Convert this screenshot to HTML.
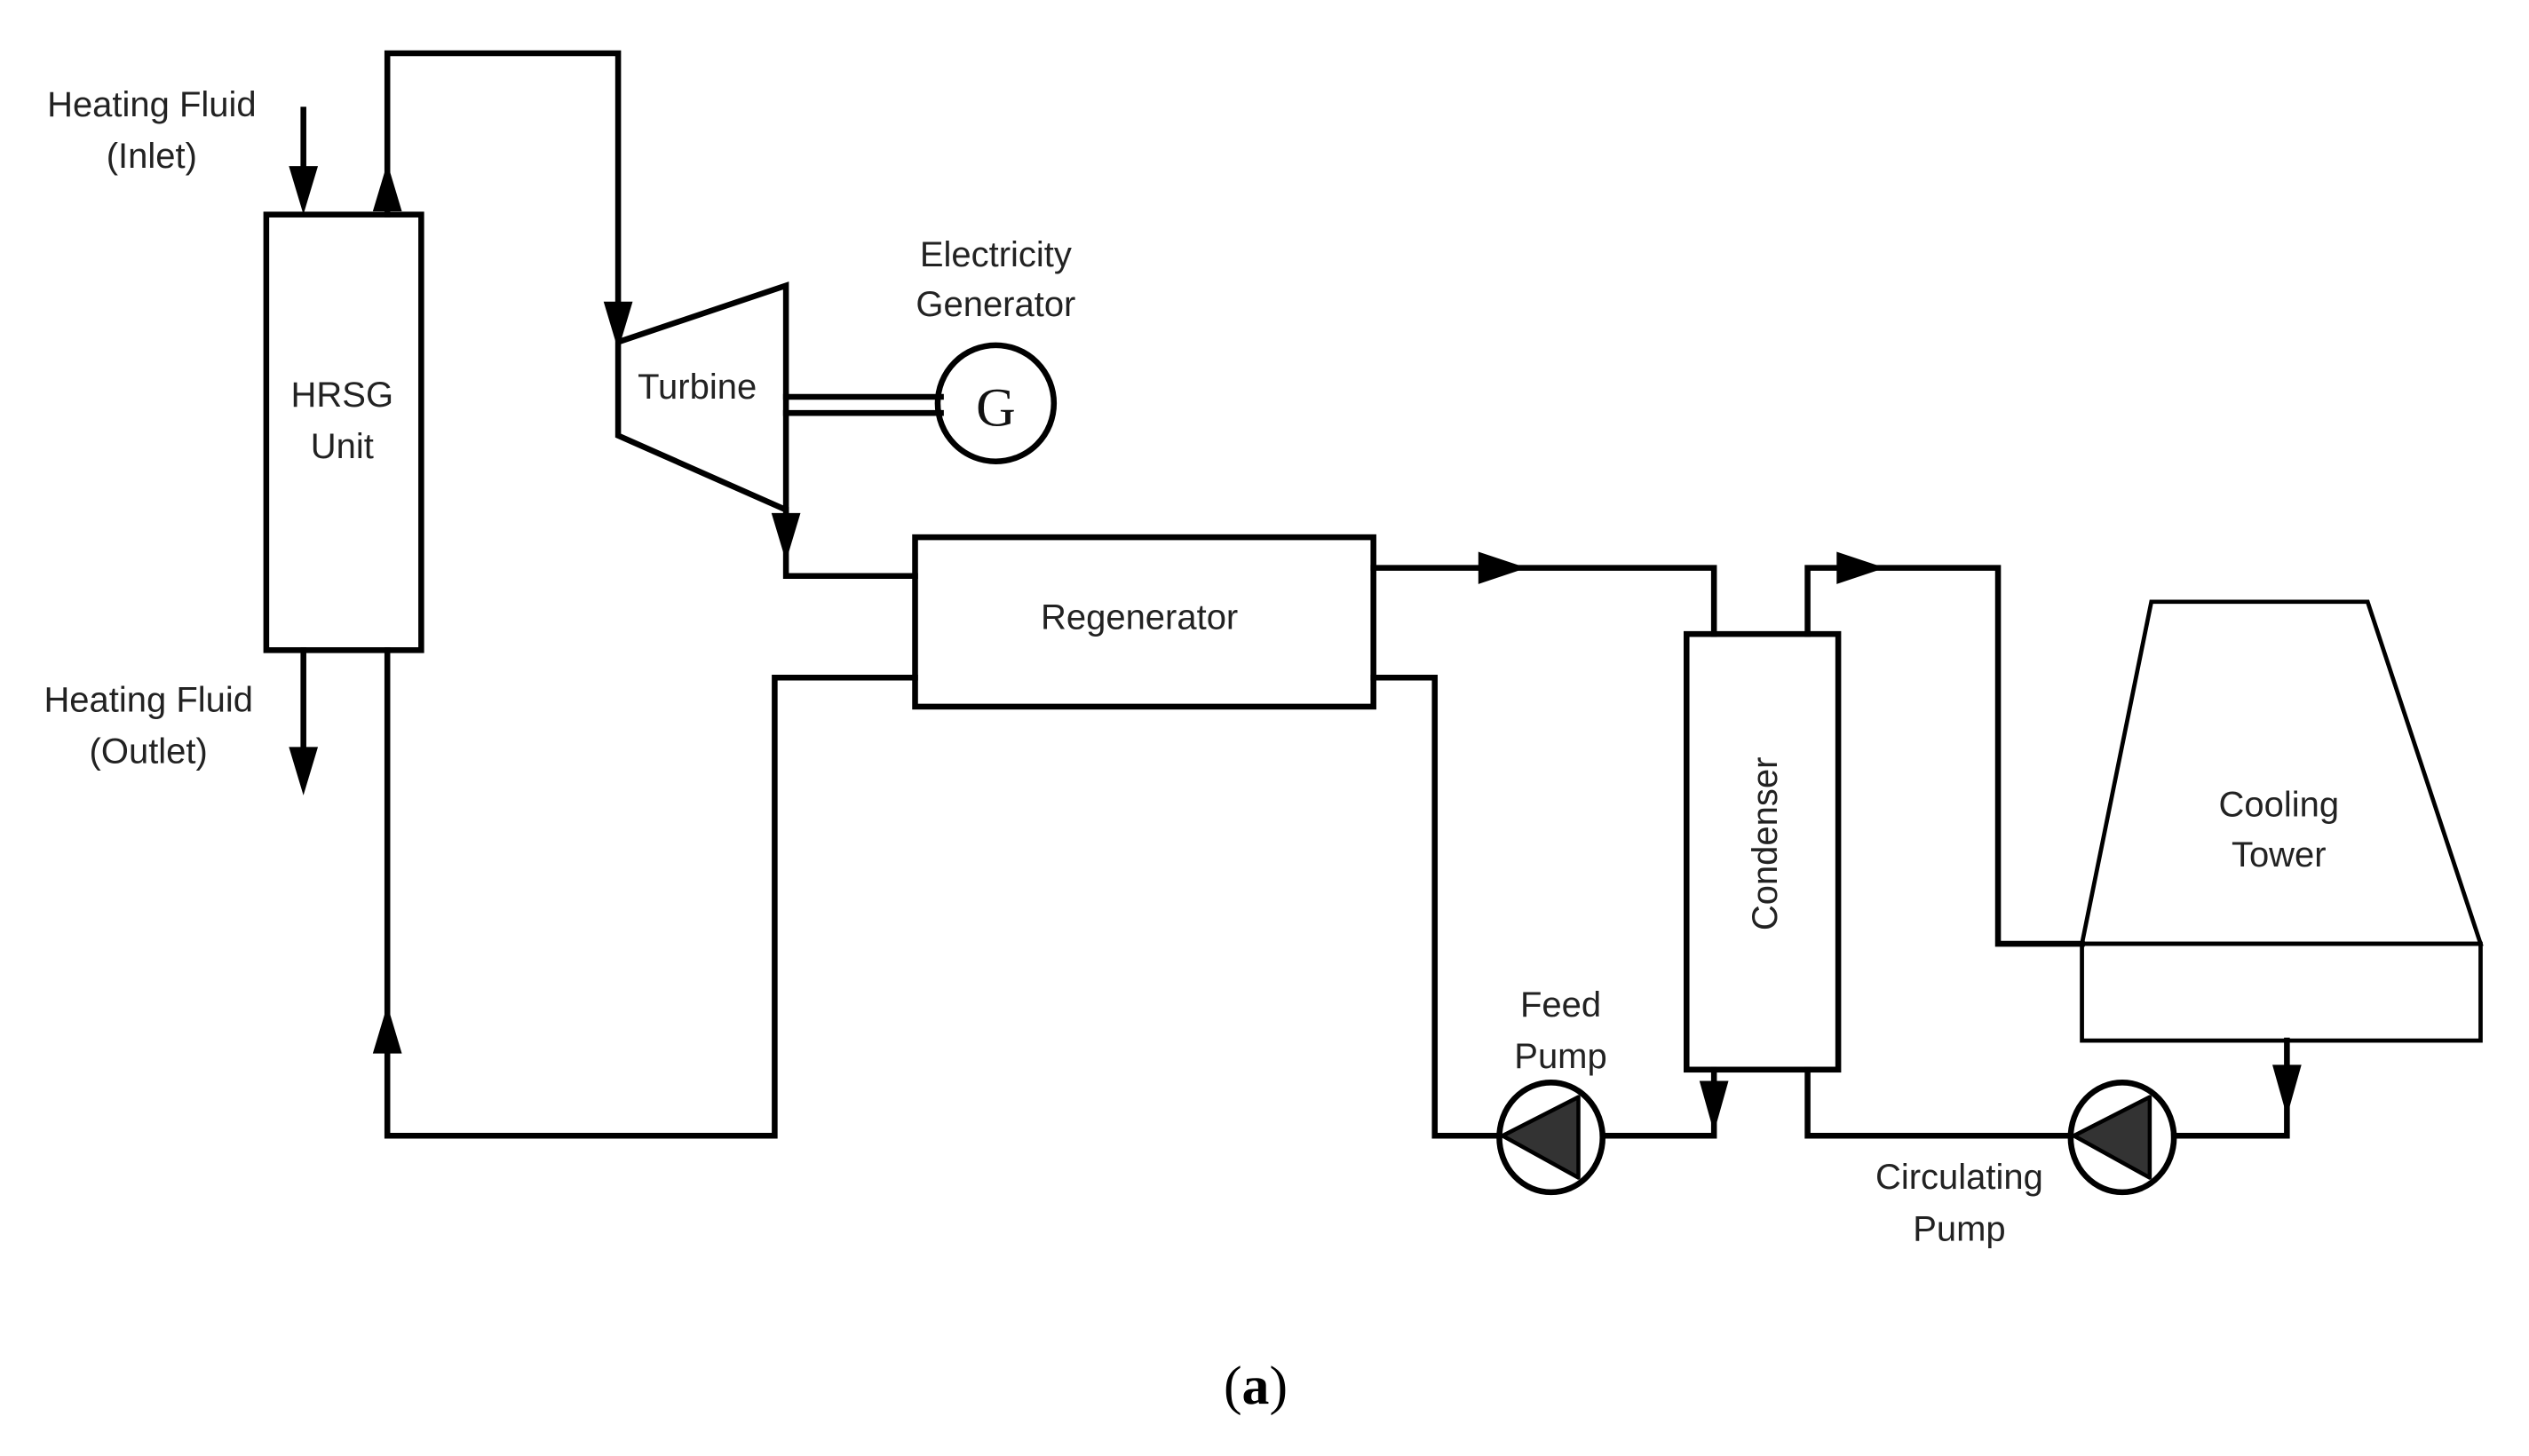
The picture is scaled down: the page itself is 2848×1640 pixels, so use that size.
<!DOCTYPE html>
<html><head><meta charset="utf-8"><style>
html,body{margin:0;padding:0;background:#fff;}
svg{display:block;}
text{font-family:"Liberation Sans",sans-serif;fill:#222;}
</style></head><body>
<svg width="2848" height="1640" viewBox="0 0 1567 902.5" preserveAspectRatio="none" xmlns="http://www.w3.org/2000/svg">
<g fill="none" stroke="#000" stroke-width="3.6" stroke-linejoin="miter" stroke-linecap="square">
<rect x="165" y="133" width="96" height="270"/>
<line x1="188" y1="68" x2="188" y2="120"/>
<line x1="188" y1="403" x2="188" y2="480"/>
<polyline points="240,133 240,33 383,33 383,200"/>
<polyline points="240,403 240,704 480,704 480,420 567,420"/>
<polygon points="383,212 487,177 487,316 383,270"/>
<line x1="487" y1="246" x2="583" y2="246"/>
<line x1="487" y1="256" x2="583" y2="256"/>
<circle cx="617" cy="250" r="36"/>
<polyline points="487,316 487,357 567,357"/>
<rect x="567" y="333" width="284" height="105"/>
<polyline points="851,352 1062,352 1062,393"/>
<polyline points="851,420 889,420 889,704 929,704"/>
<polyline points="993,704 1062,704 1062,663"/>
<rect x="1045" y="393" width="94" height="270"/>
<polyline points="1120,393 1120,352 1238,352 1238,585 1290,585"/>
<polyline points="1120,663 1120,704 1283,704"/>
<polyline points="1347,704 1417,704 1417,645"/>
<ellipse cx="961" cy="705" rx="32" ry="34"/>
<ellipse cx="1315" cy="705" rx="32" ry="34"/>
</g>
<g fill="none" stroke="#000" stroke-width="2.6">
<polygon points="1333,373 1467,373 1537,585 1290,585"/>
<rect x="1290" y="585" width="247" height="60"/>
</g>
<g fill="#333" stroke="#000" stroke-width="2.5" stroke-linejoin="round">
<polygon points="931,704 978,680 978,730"/>
<polygon points="1285,704 1332,680 1332,730"/>
</g>
<g fill="#000">
<polygon points="179,103 197,103 188,133"/>
<polygon points="231,131 249,131 240,101"/>
<polygon points="374,187 392,187 383,217"/>
<polygon points="478,318 496,318 487,348"/>
<polygon points="179,463 197,463 188,493"/>
<polygon points="231,653 249,653 240,623"/>
<polygon points="916,342 916,362 946,352"/>
<polygon points="1138,342 1138,362 1168,352"/>
<polygon points="1053,670 1071,670 1062,702"/>
<polygon points="1408,660 1426,660 1417,692"/>
</g>
<g font-size="22" text-anchor="middle">
<text x="94" y="72">Heating Fluid</text>
<text x="94" y="104">(Inlet)</text>
<text x="92" y="441">Heating Fluid</text>
<text x="92" y="473">(Outlet)</text>
<text x="212" y="252">HRSG</text>
<text x="212" y="284">Unit</text>
<text x="432" y="247">Turbine</text>
<text x="617" y="165">Electricity</text>
<text x="617" y="196">Generator</text>
<text x="706" y="390">Regenerator</text>
<text x="0" y="0" transform="translate(1101,523) rotate(-90)">Condenser</text>
<text x="1412" y="506">Cooling</text>
<text x="1412" y="537">Tower</text>
<text x="967" y="630">Feed</text>
<text x="967" y="662">Pump</text>
<text x="1214" y="737">Circulating</text>
<text x="1214" y="769">Pump</text>
</g>
<text x="617" y="264" font-size="34" text-anchor="middle" style="font-family:'Liberation Serif',serif;fill:#111">G</text>
<text x="778" y="870" font-size="34" text-anchor="middle" style="font-family:'Liberation Serif',serif;fill:#000">(<tspan font-weight="bold">a</tspan>)</text>
</svg>
</body></html>
